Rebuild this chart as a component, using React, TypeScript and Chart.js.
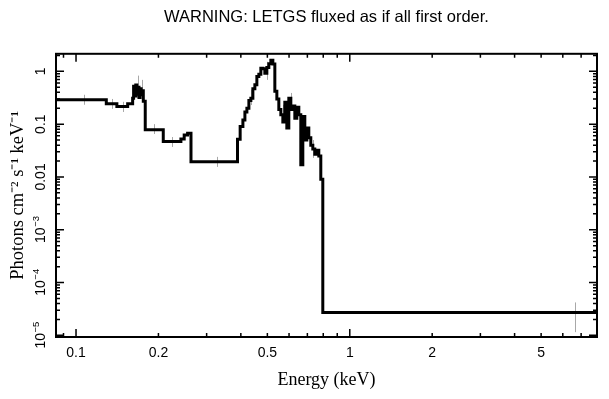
import React, { useEffect, useRef } from "react";
import { Chart, registerables } from "chart.js";

Chart.register(...registerables);

const TITLE = "WARNING: LETGS fluxed as if all first order.";
const X_TITLE = "Energy (keV)";
const Y_TITLE = "Photons cm\u207B\u00B2 s\u207B\u00B9 keV\u207B\u00B9";

// Spectrum bin edges (keV) and flux per bin (photons cm^-2 s^-1 keV^-1)
const binEdges = [
  0.08, 0.129, 0.141, 0.1544, 0.161, 0.1623,
  0.1638, 0.1653, 0.1668, 0.1683, 0.1698, 0.1713, 0.1729, 0.1745, 0.1761,
  0.179, 0.2083, 0.2416, 0.2484, 0.2556, 0.263, 0.389, 0.3977,
  0.407, 0.4139, 0.4209, 0.428, 0.4352, 0.4426, 0.4501, 0.4577, 0.4654, 0.4733,
  0.4813, 0.4895, 0.4978, 0.5062, 0.5148, 0.5236, 0.5324, 0.5415, 0.5506, 0.56,
  0.5695, 0.5791, 0.5889, 0.5989, 0.6091, 0.6194, 0.6299, 0.6405, 0.6514, 0.6624,
  0.6737, 0.6851, 0.6967, 0.7085, 0.7205, 0.7328, 0.7452, 0.7578, 0.7707, 0.7837,
  0.797, 10,
];

const flux = [
  0.289, 0.243, 0.216, 0.243, 0.31,
  0.52, 0.34, 0.55, 0.37, 0.5, 0.32, 0.47, 0.36, 0.43,
  0.27, 0.078, 0.0467, 0.0525, 0.0626, 0.0675, 0.0195, 0.052, 0.09,
  0.12, 0.17, 0.2, 0.28, 0.31, 0.47, 0.56, 0.8, 0.88, 1.15,
  1.12, 0.92, 1.18, 1.4, 1.62, 1.38, 0.42, 0.3, 0.19, 0.15,
  0.11, 0.26, 0.085, 0.31, 0.19, 0.22, 0.13, 0.21, 0.15, 0.017,
  0.14, 0.05, 0.085, 0.055, 0.04, 0.034, 0.027, 0.032, 0.025, 0.009,
  2.7e-5,
];

// Error bars (grey)
const errEnergy = [0.107, 0.1353, 0.148, 0.1684, 0.174, 0.193, 0.225, 0.3286, 0.4352, 0.4978, 0.5695, 0.6091, 0.7328, 6.66];
const errLow = [0.233, 0.195, 0.17, 0.39, 0.36, 0.065, 0.037, 0.0155, 0.23, 0.69, 0.11, 0.187, 0.023, 1.15e-5];
const errHigh = [0.36, 0.3, 0.265, 0.83, 0.69, 0.1, 0.057, 0.024, 0.45, 1.52, 0.232, 0.39, 0.05, 4.2e-5];

// Axis ticks
const xRange = [0.0845, 8.0];
const yRange = [9.3e-6, 2.15];
const xTickValues = [0.1, 0.2, 0.5, 1, 2, 5];
const xMajorTicks = [0.1, 1];
const xMinorTicks = [0.09, 0.2, 0.3, 0.4, 0.5, 0.6, 0.7, 0.8, 0.9, 2, 3, 4, 5, 6, 7, 8];
const yMajorTicks = [1, 0.1, 0.01, 1e-3, 1e-4, 1e-5];
const yTickBase = ["1", "0.1", "0.01", "10", "10", "10"];
const yTickSup = ["", "", "", "\u22123", "\u22124", "\u22125"];
const yMinorMultipliers = [2, 3, 4, 5, 6, 7, 8, 9];
const yMinorDecades = [1e-6, 1e-5, 1e-4, 1e-3, 1e-2, 1e-1, 1];

const SANS = "'Liberation Sans', Arial, sans-serif";
const SERIF = "'Liberation Serif', 'Times New Roman', serif";

const framePlugin = {
  id: "frameAxes",
  beforeDatasetsDraw(chart: any) {
    const { ctx, chartArea: a, scales } = chart;
    const x = scales.x;
    const y = scales.y;
    ctx.save();
    ctx.beginPath();
    ctx.rect(a.left, a.top, a.right - a.left, a.bottom - a.top);
    ctx.clip();
    ctx.strokeStyle = "#a8a8a8";
    ctx.lineWidth = 1;
    errEnergy.forEach((e, i) => {
      const px = Math.round(x.getPixelForValue(e)) + 0.5;
      ctx.beginPath();
      ctx.moveTo(px, y.getPixelForValue(errHigh[i]));
      ctx.lineTo(px, y.getPixelForValue(errLow[i]));
      ctx.stroke();
    });
    ctx.restore();
  },
  afterDatasetsDraw(chart: any) {
    const { ctx, chartArea: a, scales } = chart;
    const x = scales.x;
    const y = scales.y;
    ctx.save();
    ctx.strokeStyle = "#000";
    ctx.lineWidth = 1.5;
    const major = 8;
    const minor = 4;
    const tickX = (v: number, len: number) => {
      const px = x.getPixelForValue(v);
      ctx.beginPath();
      ctx.moveTo(px, a.bottom);
      ctx.lineTo(px, a.bottom - len);
      ctx.moveTo(px, a.top);
      ctx.lineTo(px, a.top + len);
      ctx.stroke();
    };
    const tickY = (v: number, len: number) => {
      if (v < yRange[0] || v > yRange[1]) return;
      const py = y.getPixelForValue(v);
      ctx.beginPath();
      ctx.moveTo(a.left, py);
      ctx.lineTo(a.left + len, py);
      ctx.moveTo(a.right, py);
      ctx.lineTo(a.right - len, py);
      ctx.stroke();
    };
    xMajorTicks.forEach((v) => tickX(v, major));
    xMinorTicks.forEach((v) => tickX(v, minor));
    yMajorTicks.forEach((v) => tickY(v, major));
    yMinorDecades.forEach((d) => yMinorMultipliers.forEach((m) => tickY(m * d, minor)));
    ctx.lineWidth = 2;
    ctx.strokeRect(a.left, a.top, a.right - a.left, a.bottom - a.top);
    ctx.restore();
  },
  afterDraw(chart: any) {
    const { ctx, scales } = chart;
    const y = scales.y;
    ctx.save();
    ctx.fillStyle = "#000";
    ctx.textBaseline = "middle";
    const baseFont = `14px ${SANS}`;
    const supFont = `9.5px ${SANS}`;
    yMajorTicks.forEach((v, i) => {
      const py = y.getPixelForValue(v);
      ctx.save();
      ctx.translate(41, py);
      ctx.rotate(-Math.PI / 2);
      ctx.font = baseFont;
      const wb = ctx.measureText(yTickBase[i]).width;
      ctx.font = supFont;
      const ws = yTickSup[i] ? ctx.measureText(yTickSup[i]).width : 0;
      const start = -(wb + ws) / 2;
      ctx.textAlign = "left";
      ctx.font = baseFont;
      ctx.fillText(yTickBase[i], start, 0);
      if (yTickSup[i]) {
        ctx.font = supFont;
        ctx.fillText(yTickSup[i], start + wb + 0.5, -5);
      }
      ctx.restore();
    });
    ctx.restore();
  },
};

export default function App() {
  const canvasRef = useRef<HTMLCanvasElement | null>(null);

  useEffect(() => {
    if (!canvasRef.current) return;
    const points = flux.map((f, i) => ({ x: binEdges[i], y: f }));
    points.push({ x: binEdges[binEdges.length - 1], y: flux[flux.length - 1] });

    const chart = new Chart(canvasRef.current, {
      type: "line",
      data: {
        datasets: [
          {
            data: points,
            borderColor: "#000",
            borderWidth: 3,
            stepped: "before",
            pointRadius: 0,
            fill: false,
            borderJoinStyle: "miter",
            borderCapStyle: "butt",
          } as any,
        ],
      },
      options: {
        responsive: false,
        animation: false,
        devicePixelRatio: 1,
        layout: { padding: { left: 0, right: 12, top: 0, bottom: 0 } },
        plugins: {
          legend: { display: false },
          tooltip: { enabled: false },
          title: {
            display: true,
            text: TITLE,
            fullSize: false,
            color: "#000",
            font: { family: SANS, size: 16.5, weight: "normal" },
            padding: { top: 8, bottom: 26 },
          },
        },
        scales: {
          x: {
            type: "logarithmic",
            min: xRange[0],
            max: xRange[1],
            grid: { display: false, drawTicks: false },
            border: { display: false },
            afterBuildTicks: (s: any) => {
              s.ticks = xTickValues.map((v) => ({ value: v }));
            },
            afterFit: (s: any) => {
              s.height = 62;
            },
            ticks: {
              autoSkip: false,
              maxRotation: 0,
              minRotation: 0,
              padding: 8,
              color: "#000",
              font: { family: SANS, size: 14 },
              callback: (v: any) => String(v),
            },
            title: {
              display: true,
              text: X_TITLE,
              color: "#000",
              font: { family: SERIF, size: 18 },
              padding: { top: 0, bottom: 8 },
            },
          },
          y: {
            type: "logarithmic",
            min: yRange[0],
            max: yRange[1],
            grid: { display: false, drawTicks: false },
            border: { display: false },
            ticks: { display: false },
            afterFit: (s: any) => {
              s.width = 56;
            },
            title: {
              display: true,
              text: Y_TITLE,
              color: "#000",
              font: { family: SERIF, size: 18.5 },
              padding: { top: 7, bottom: 0 },
            },
          },
        },
      } as any,
      plugins: [framePlugin],
    });
    return () => chart.destroy();
  }, []);

  return (
    <div style={{ position: "absolute", left: 0, top: 0, width: 609, height: 399, background: "#fff" }}>
      <canvas ref={canvasRef} width={609} height={399} />
    </div>
  );
}
